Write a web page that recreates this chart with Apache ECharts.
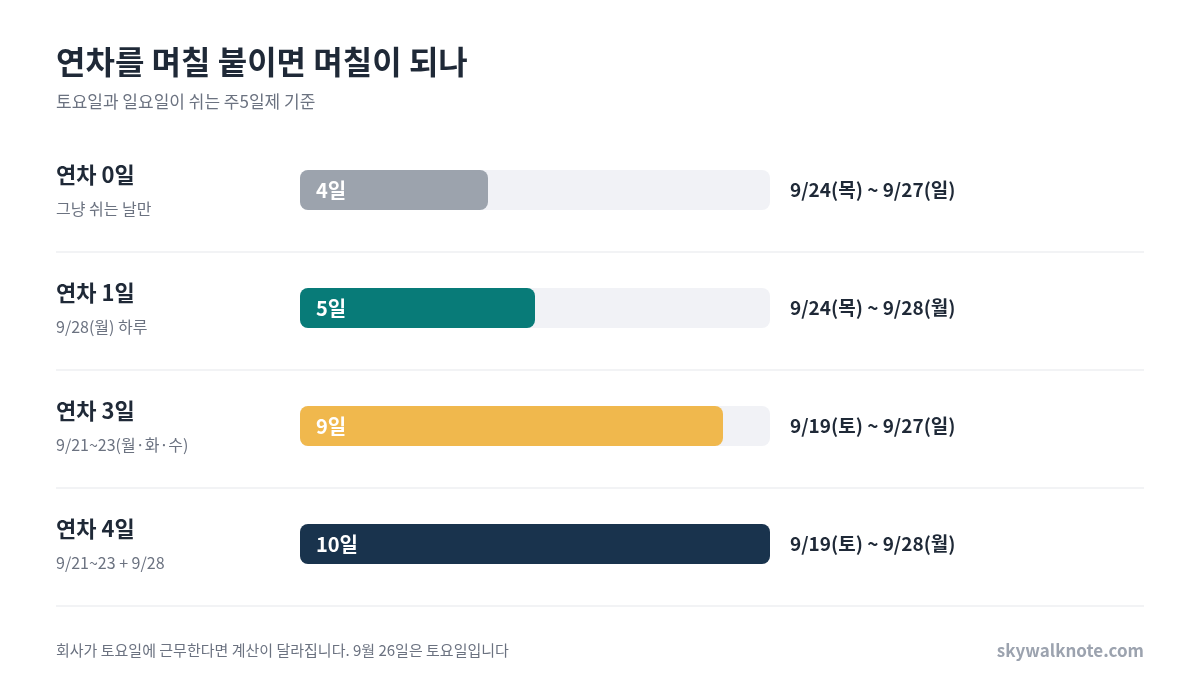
<!DOCTYPE html>
<html><head><meta charset="utf-8">
<script src="https://cdn.jsdelivr.net/npm/echarts@6/dist/echarts.min.js"></script>
<style>html,body{margin:0;background:#fff}#c{width:1200px;height:690px}</style>
</head><body><div id="c"></div>
<script>
var rowTitles = ['연차 0일', '연차 1일', '연차 3일', '연차 4일'];
var rowSubs = ['그냥 쉬는 날만', '9/28(월) 하루', '9/21~23(월·화·수)', '9/21~23 + 9/28'];
var days = [4, 5, 9, 10];
var ranges = ['9/24(목) ~ 9/27(일)', '9/24(목) ~ 9/28(월)', '9/19(토) ~ 9/27(일)', '9/19(토) ~ 9/28(월)'];
var colors = ['#9ca3ad', '#087b78', '#f0b84d', '#19334d'];
var maxDays = 10;

var font = '"Noto Sans CJK KR", "Noto Sans", sans-serif';
var chart = echarts.init(document.getElementById('c'));

var graphics = [
  {type: 'text', left: 56, top: 46, style: {text: '연차를 며칠 붙이면 며칠이 되나', font: 'bold 32px ' + font, fill: '#1f2937'}},
  {type: 'text', left: 56, top: 93, style: {text: '토요일과 일요일이 쉬는 주5일제 기준', font: '17px ' + font, fill: '#6b7280'}},
  {type: 'text', left: 56, top: 643, style: {text: '회사가 토요일에 근무한다면 계산이 달라집니다. 9월 26일은 토요일입니다', font: '15px ' + font, fill: '#6b7280'}},
  {type: 'text', right: 56, top: 642, style: {text: 'skywalknote.com', font: 'bold 17px ' + font, fill: '#9ca3af'}}
];
rowTitles.forEach(function (t, i) {
  var cy = 190 + i * 118;
  graphics.push({type: 'text', left: 56, top: cy - 26, style: {text: t, font: 'bold 22px ' + font, fill: '#1f2937'}});
  graphics.push({type: 'text', left: 56, top: cy + 11, style: {text: rowSubs[i], font: '16px ' + font, fill: '#6b7280'}});
  graphics.push({type: 'line', shape: {x1: 56, y1: cy + 62, x2: 1144, y2: cy + 62}, style: {stroke: '#e5e7eb', lineWidth: 1}});
});

chart.setOption({
  animation: false,
  graphic: graphics,
  grid: {left: 300, right: 430, top: 131, bottom: 87},
  xAxis: {type: 'value', min: 0, max: maxDays, show: false},
  yAxis: {type: 'category', inverse: true, data: rowTitles, show: false},
  series: [
    {
      type: 'bar', barWidth: 40, silent: true,
      data: days.map(function () { return maxDays; }),
      itemStyle: {color: '#f1f2f6', borderRadius: 8},
      label: {show: true, position: 'right', distance: 20, formatter: function (p) { return ranges[p.dataIndex]; },
        font: 'bold 19px ' + font, color: '#1f2937', fontWeight: 'bold', fontSize: 19, fontFamily: font}
    },
    {
      type: 'bar', barWidth: 40, barGap: '-100%',
      data: days.map(function (v, i) { return {value: v, itemStyle: {color: colors[i]}}; }),
      itemStyle: {borderRadius: 8},
      label: {show: true, position: 'insideLeft', distance: 16, formatter: '{c}일',
        color: '#fff', fontWeight: 'bold', fontSize: 20, fontFamily: font}
    }
  ]
});
</script></body></html>
